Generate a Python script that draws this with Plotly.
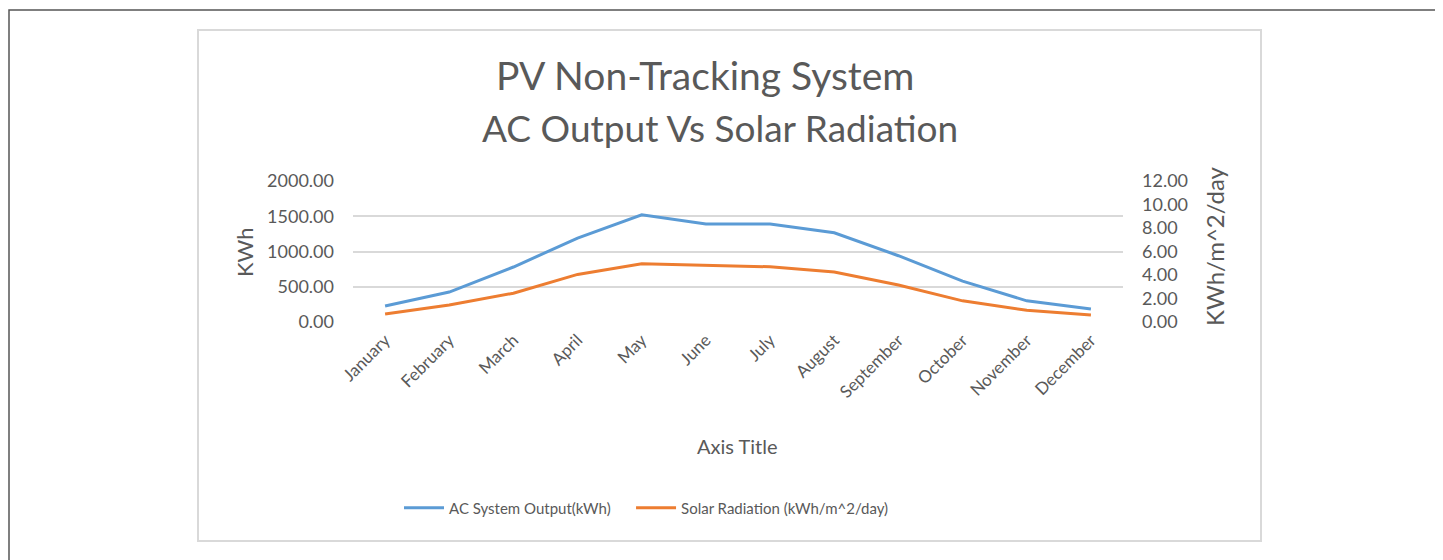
import plotly.graph_objects as go

W, H = 1443, 560
OFF = 8  # page body margin

months = ["January", "February", "March", "April", "May", "June", "July",
          "August", "September", "October", "November", "December"]
ac_output = [227, 425, 780, 1190, 1520, 1390, 1390, 1265, 940, 580, 300, 185]
solar_rad = [0.68, 1.45, 2.45, 4.05, 4.95, 4.85, 4.7, 4.25, 3.15, 1.8, 1.0, 0.6]
left_ticks = [0, 500, 1000, 1500, 2000]
right_ticks = [0, 2, 4, 6, 8, 10, 12]

BLUE = "#5B9BD5"
ORANGE = "#ED7D31"
GREY = "#595959"
FONT = "Lato"


def px(x):
    return (x - OFF) / W


def py(y):
    return (H - (y - OFF)) / H


fig = go.Figure()
fig.add_trace(go.Scatter(
    x=months, y=ac_output, mode="lines",
    name="AC System Output(kWh)" + "\u00a0" * 4,
    line=dict(color=BLUE, width=3),
))
fig.add_trace(go.Scatter(
    x=months, y=solar_rad, mode="lines", name="Solar Radiation (kWh/m^2/day)",
    line=dict(color=ORANGE, width=3), yaxis="y2",
))

fig.update_layout(
    width=W, height=H,
    margin=dict(l=0, r=0, t=0, b=0),
    paper_bgcolor="white", plot_bgcolor="white",
    font=dict(family=FONT, color=GREY, size=17),
    showlegend=True,
    legend=dict(orientation="h", x=px(399), xanchor="left", y=py(508), yanchor="middle",
                font=dict(size=15, color=GREY), itemwidth=40),
    xaxis=dict(
        domain=[px(353), px(1123)], range=[-0.5, 11.5], showgrid=False,
        showline=False, zeroline=False,
        tickangle=-45, tickfont=dict(size=17, color=GREY), automargin=False,
        ticks="", ticklabelstandoff=4,
    ),
    yaxis=dict(
        domain=[py(322), py(181)], range=[0, 2000], tickvals=left_ticks,
        tickformat=".2f", showgrid=True, gridcolor="#d9d9d9", gridwidth=1.5,
        zeroline=False, showline=False, automargin=False,
        tickfont=dict(size=18, color=GREY), ticklabelstandoff=18,
    ),
    yaxis2=dict(
        overlaying="y", side="right", range=[0, 12], tickvals=right_ticks,
        tickformat=".2f", showgrid=False, zeroline=False, showline=False,
        automargin=False, tickfont=dict(size=18, color=GREY), ticklabelstandoff=18,
    ),
)

annotations = [
    dict(text="PV Non-Tracking System", x=px(705), y=py(75), size=39),
    dict(text="AC Output Vs Solar Radiation", x=px(720), y=py(127), size=37),
    dict(text="KWh", x=px(244), y=py(252), textangle=-90, size=22),
    dict(text="KWh/m^2/day", x=px(1214), y=py(246), textangle=-90, size=24),
    dict(text="Axis Title", x=px(737), y=py(446), size=20),
]
for a in annotations:
    size = a.pop("size")
    fig.add_annotation(xref="paper", yref="paper", showarrow=False,
                       xanchor="center", yanchor="middle",
                       font=dict(family=FONT, color=GREY, size=size), **a)

# chart area border and outer frame
fig.add_shape(type="rect", xref="paper", yref="paper",
              x0=px(198), x1=px(1261), y0=py(541), y1=py(30),
              line=dict(color="#d9d9d9", width=2), layer="below")
fig.add_shape(type="rect", xref="paper", yref="paper",
              x0=px(9), x1=1.2, y0=-0.2, y1=py(10),
              line=dict(color="#555555", width=1.5), layer="below")

fig.write_html("out.html")
